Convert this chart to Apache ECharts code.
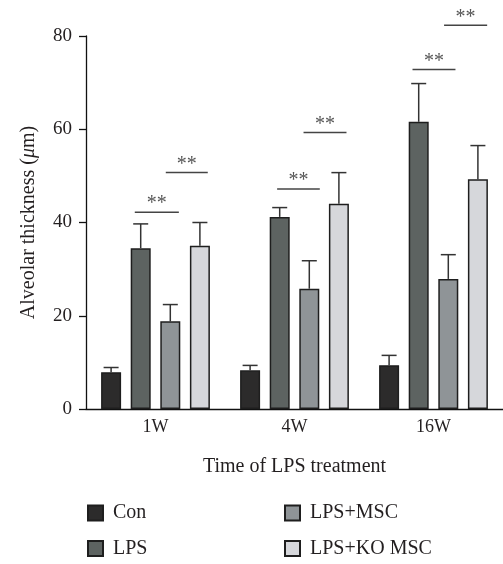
<!DOCTYPE html>
<html><head><meta charset="utf-8">
<script src="https://cdn.jsdelivr.net/npm/echarts@6/dist/echarts.min.js"></script>
<style>html,body{margin:0;padding:0;background:#fff}#c{width:503px;height:564px}</style>
</head><body><div id="c"></div>
<script>
var categories = ['1W', '4W', '16W'];
var seriesNames = ['Con', 'LPS', 'LPS+MSC', 'LPS+KO MSC'];
var conVals = [7.9, 8.3, 9.4];
var conSd = [1.0, 1.05, 2.1];
var lpsVals = [34.5, 41.2, 61.6];
var lpsSd = [5.2, 2.0, 8.2];
var mscVals = [18.8, 25.8, 27.9];
var mscSd = [3.6, 6.0, 5.2];
var koVals = [35.0, 44.0, 49.3];
var koSd = [5.0, 6.7, 7.2];
var yTicks = [0, 20, 40, 60, 80];
// significance brackets (x in category units, 0..3)
var sigStart = [0.351, 0.574, 1.375, 1.565, 2.349, 2.576];
var sigEnd = [0.668, 0.876, 1.682, 1.874, 2.658, 2.886];
var sigY = [42.2, 50.7, 47.2, 59.3, 72.8, 82.3];
var sigLabel = ['**', '**', '**', '**', '**', '**'];

var colors = ['#2c2b2b', '#5d6361', '#8f9497', '#d6d7db'];
var vals = [conVals, lpsVals, mscVals, koVals];
var sds = [conSd, lpsSd, mscSd, koSd];
var FONT = 'Liberation Serif';
var BW = 20, GAP = 0.48;

var chart = echarts.init(document.getElementById('c'));
var barSeries = seriesNames.map(function (n, k) {
  return {
    name: n, type: 'bar', xAxisIndex: 0, yAxisIndex: 0,
    barWidth: BW, barGap: (GAP * 100) + '%',
    data: vals[k],
    itemStyle: { color: colors[k], borderColor: '#1e1e1e', borderWidth: 1.5 },
    z: 3
  };
});
var errData = [];
for (var k = 0; k < 4; k++) for (var i = 0; i < categories.length; i++) errData.push([i, vals[k][i], vals[k][i] + sds[k][i], k]);

var errSeries = {
  type: 'custom', xAxisIndex: 0, yAxisIndex: 0, z: 2, silent: true,
  data: errData,
  renderItem: function (params, api) {
    var c = api.value(0), lo = api.value(1), hi = api.value(2), k = api.value(3);
    var pLo = api.coord([c, lo]), pHi = api.coord([c, hi]);
    var x = pLo[0] + (k - 1.5) * BW * (1 + GAP);
    var st = { stroke: '#333', lineWidth: 1.5 };
    return { type: 'group', children: [
      { type: 'line', shape: { x1: x, y1: pLo[1], x2: x, y2: pHi[1] }, style: st },
      { type: 'line', shape: { x1: x - 7.5, y1: pHi[1], x2: x + 7.5, y2: pHi[1] }, style: st }
    ]};
  }
};
var sigData = sigStart.map(function (s, i) { return [s, sigEnd[i], sigY[i], i]; });
var sigSeries = {
  type: 'custom', xAxisIndex: 1, yAxisIndex: 0, z: 4, silent: true, clip: false,
  data: sigData,
  renderItem: function (params, api) {
    var p0 = api.coord([api.value(0), api.value(2)]);
    var p1 = api.coord([api.value(1), api.value(2)]);
    return { type: 'group', children: [
      { type: 'line', shape: { x1: p0[0], y1: p0[1], x2: p1[0], y2: p1[1] }, style: { stroke: '#444', lineWidth: 1.5 } },
      { type: 'text', x: (p0[0] + p1[0]) / 2, y: p0[1] + 2,
        style: { text: sigLabel[api.value(3)], font: '20px "' + FONT + '"', fill: '#555', align: 'center', verticalAlign: 'bottom' } }
    ]};
  }
};

var legendCommon = { orient: 'vertical', top: 503, height: 61, padding: 0, itemWidth: 15, itemHeight: 15, itemGap: 15.5,
  icon: 'rect', textStyle: { fontFamily: FONT, fontSize: 20, lineHeight: 20, color: '#231f20', padding: [0, 0, 0, 5] } };

chart.setOption({
  animation: false,
  backgroundColor: '#fff',
  grid: { left: 86, right: 0, top: 36, bottom: 155, containLabel: false },
  legend: [
    Object.assign({ data: ['Con', 'LPS'], left: 87 }, legendCommon),
    Object.assign({ data: ['LPS+MSC', 'LPS+KO MSC'], left: 284 }, legendCommon)
  ],
  xAxis: [
    { type: 'category', data: categories, gridIndex: 0,
      name: 'Time of LPS treatment', nameLocation: 'middle', nameGap: 48,
      nameTextStyle: { fontFamily: FONT, fontSize: 20, color: '#231f20' },
      axisLine: { lineStyle: { color: '#111', width: 1.3 } },
      axisTick: { alignWithLabel: true, length: 6, lineStyle: { color: '#111', width: 1.3 } },
      axisLabel: { fontFamily: FONT, fontSize: 18, color: '#231f20', margin: 9 },
      splitLine: { show: false } },
    { type: 'value', min: 0, max: 3, show: false, gridIndex: 0 }
  ],
  yAxis: { type: 'value', min: yTicks[0], max: yTicks[yTicks.length - 1], interval: 20,
    name: '{a|Alveolar thickness (}{i|μ}{a|m)}', nameLocation: 'middle', nameGap: 47, nameRotate: 90,
    nameTextStyle: { rich: { a: { fontFamily: FONT, fontSize: 20, color: '#231f20' }, i: { fontFamily: FONT, fontSize: 20, fontStyle: 'italic', color: '#231f20' } } },
    axisLine: { show: true, lineStyle: { color: '#111', width: 1.3 } },
    axisTick: { show: true, length: 7, lineStyle: { color: '#111', width: 1.3 } },
    axisLabel: { fontFamily: FONT, fontSize: 19, color: '#231f20', margin: 14 },
    splitLine: { show: false } },
  series: barSeries.concat([errSeries, sigSeries])
});
</script></body></html>
